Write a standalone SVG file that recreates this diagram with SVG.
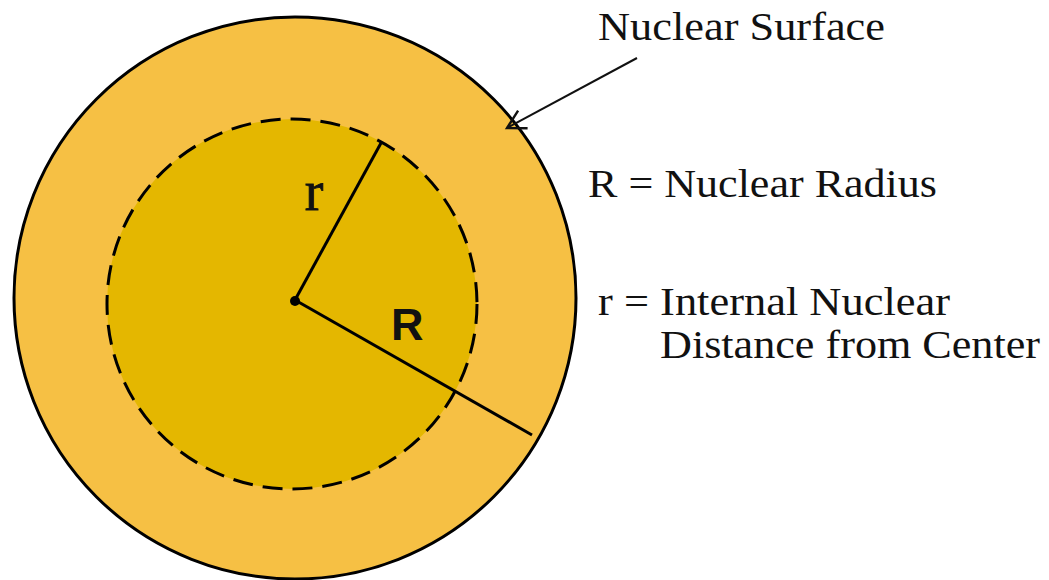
<svg xmlns="http://www.w3.org/2000/svg" width="1049" height="580" viewBox="0 0 1049 580">
<defs>
<marker id="arr" markerWidth="26" markerHeight="26" refX="21" refY="12" orient="auto" markerUnits="userSpaceOnUse">
<path d="M3,2 L21,12 L3,22" fill="none" stroke="#111" stroke-width="2.4"/>
</marker>
</defs>
<style>
.lbl{font-family:"Liberation Serif","Times New Roman",serif;font-size:41px;fill:#111}
.ln{stroke:#000;stroke-width:3;fill:none}
</style>
<rect width="1049" height="580" fill="#fff"/>
<g id="outer"><circle cx="295" cy="298" r="281" fill="#F6C044" stroke="#000" stroke-width="3"/></g>
<g id="inner"><circle cx="292" cy="304" r="185" fill="#E4B700" stroke="#000" stroke-width="3" stroke-dasharray="20,10"/></g>
<g id="connectors">
<line class="ln" x1="295" y1="300" x2="381" y2="143"/>
<line class="ln" x1="295" y1="300" x2="532" y2="435"/>
<line x1="637" y1="58" x2="507" y2="128" stroke="#111" stroke-width="2" marker-end="url(#arr)"/>
<circle cx="295" cy="301" r="5" fill="#000"/>
</g>
<g id="labels">
<text x="314" y="210" font-family="Liberation Serif, serif" font-size="56" fill="#111" stroke="#111" stroke-width="0.8" text-anchor="middle">r</text>
<text x="391" y="340" font-family="Liberation Sans, Arial, sans-serif" font-size="45" font-weight="bold" fill="#111">R</text>
<text class="lbl" x="598" y="40" textLength="287" lengthAdjust="spacingAndGlyphs">Nuclear Surface</text>
<text class="lbl" x="588" y="197" textLength="349" lengthAdjust="spacingAndGlyphs">R = Nuclear Radius</text>
<text class="lbl" x="598" y="315" textLength="352" lengthAdjust="spacingAndGlyphs">r = Internal Nuclear</text>
<text class="lbl" x="660" y="358" textLength="380" lengthAdjust="spacingAndGlyphs">Distance from Center</text>
</g>
</svg>
